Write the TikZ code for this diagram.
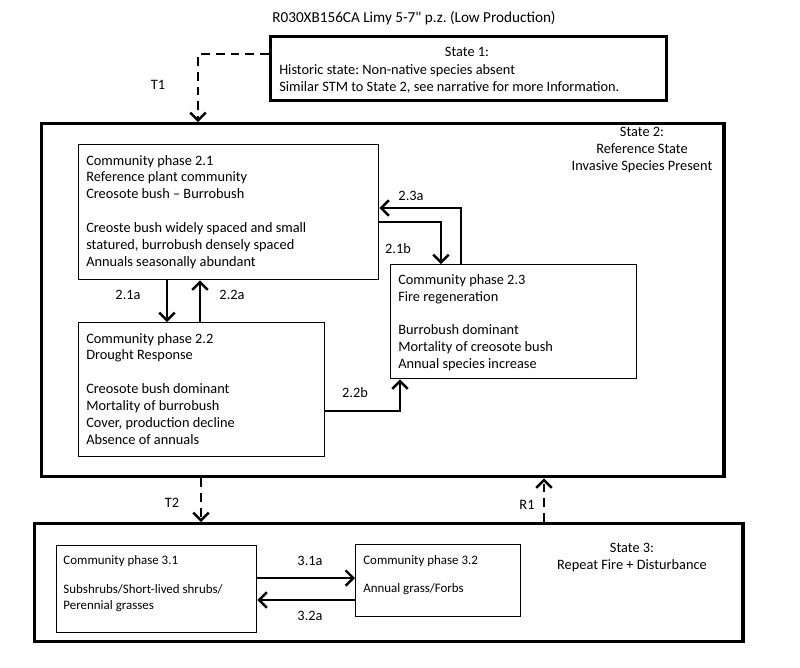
\documentclass[tikz,border=0pt]{standalone}
\usepackage{fontspec}
\setmainfont{Carlito}
\newfontfamily\plainfont{Carlito}
\frenchspacing
\usetikzlibrary{positioning,calc,arrows.meta}

\begin{document}
\begin{tikzpicture}[x=0.025cm,y=-0.025cm,
    statebox/.style={draw, line width=2.4pt, anchor=north west, inner sep=0pt},
    phasebox/.style={draw, line width=1pt, anchor=north west, inner sep=0pt},
    phasetext/.style={align=left, inner sep=0pt, font=\fontsize{10.2}{12}\selectfont},
    smalltext/.style={align=left, inner sep=0pt, font=\fontsize{9.2}{12}\selectfont},
    lbl/.style={inner sep=0pt, font=\fontsize{10.2}{12}\selectfont},
    tip/.style={-{Straight Barb[length=5.5pt,width=11pt,line width=1.7pt]}, line width=0.9pt},
    trans/.style={tip, dash pattern=on 0.22cm off 0.15cm}]
    \useasboundingbox (0,0) rectangle (800,667);
    \node[lbl, font=\plainfont\fontsize{10.8}{13}\selectfont] (title) at (414,18) {R030XB156CA Limy 5-7" p.z. (Low Production)};

    % State 1
    \node[statebox, minimum width=9.9cm, minimum height=1.6cm] (s1) at (269,35) {};
    \node[lbl] (s1head) at (467,52) {State 1:};
    \node[phasetext, anchor=west] (s1body) at (279,78.5) {Historic state: Non-native species absent\\Similar STM to State 2, see narrative for more Information.};

    % State 2
    \node[statebox, minimum width=17.05cm, minimum height=8.825cm] (s2) at (40,122) {};
    \node[phasetext, align=center] (s2head) at (642,150) {State 2:\\Reference State\\Invasive Species Present};

    \node[phasebox, minimum width=7.5cm, minimum height=3.375cm] (b21) at (78,144) {};
    \node[phasetext, below right=0.27cm and 0.2cm of b21.north west] (t21) {Community phase 2.1\\Reference plant community\\Creosote bush -- Burrobush\\[12pt]Creoste bush widely spaced and small\\statured, burrobush densely spaced\\Annuals seasonally abundant};

    \node[phasebox, minimum width=6.15cm, minimum height=3.35cm] (b22) at (78,322) {};
    \node[phasetext, below right=0.27cm and 0.2cm of b22.north west] (t22) {Community phase 2.2\\Drought Response\\[12pt]Creosote bush dominant\\Mortality of burrobush\\Cover, production decline\\Absence of annuals};

    \node[phasebox, minimum width=6.15cm, minimum height=2.85cm] (b23) at (390,264) {};
    \node[phasetext, below right=0.25cm and 0.2cm of b23.north west] (t23) {Community phase 2.3\\Fire regeneration\\[12pt]Burrobush dominant\\Mortality of creosote bush\\Annual species increase};

    \draw[tip] ($(b21.south west)+(89,0)$) -- ($(b22.north west)+(89,0)$);
    \draw[tip] ($(b22.north west)+(122,0)$) -- ($(b21.south west)+(122,0)$);
    \draw[tip] ($(b23.north west)+(71,0)$) |- ($(b21.north east)+(0,64)$);
    \draw[tip] ($(b21.north east)+(0,78)$) -| ($(b23.north west)+(51,0)$);
    \draw[tip] ($(b22.north east)+(0,89)$) -| ($(b23.south west)+(10,0)$);
    \node[lbl] (l21a) at (128,295) {2.1a};
    \node[lbl] (l22a) at (232,295) {2.2a};
    \node[lbl] (l23a) at (411,196) {2.3a};
    \node[lbl] (l21b) at (398,249) {2.1b};
    \node[lbl] (l22b) at (355,393) {2.2b};

    % State 3
    \node[statebox, minimum width=17.7cm, minimum height=2.95cm] (s3) at (33,522) {};
    \node[phasetext, align=center] (s3head) at (632,557.5) {State 3:\\Repeat Fire + Disturbance};

    \node[phasebox, minimum width=5cm, minimum height=2.175cm] (b31) at (56,545) {};
    \node[smalltext, below right=0.25cm and 0.18cm of b31.north west] (t31) {Community phase 3.1\\[8.5pt]Subshrubs/Short-lived shrubs/\\Perennial grasses};

    \node[phasebox, minimum width=4.125cm, minimum height=1.8cm] (b32) at (355,544) {};
    \node[smalltext, below right=0.27cm and 0.2cm of b32.north west] (t32) {Community phase 3.2\\[8.5pt]Annual grass/Forbs};

    \draw[tip] ($(b31.north east)+(0,33)$) -- ($(b32.north west)+(0,34)$);
    \draw[tip] ($(b32.north west)+(0,56)$) -- ($(b31.north east)+(0,55)$);
    \node[lbl] (l31a) at (310,561) {3.1a};
    \node[lbl] (l32a) at (310,616) {3.2a};

    % transitions between states
    \coordinate (t1bend) at (198,54);
    \draw[trans] (s1.west |- t1bend) -- (t1bend) -- (t1bend |- s2.north);
    \draw[trans] ($(s2.south west)+(161,0)$) -- ($(s3.north west)+(168,0)$);
    \draw[trans] ($(s3.north west)+(511,0)$) -- ($(s2.south west)+(504,0)$);
    \node[lbl] (lt1) at (158,85) {T1};
    \node[lbl] (lt2) at (172,503) {T2};
    \node[lbl] (lr1) at (527,505) {R1};
  \end{tikzpicture}
\end{document}
